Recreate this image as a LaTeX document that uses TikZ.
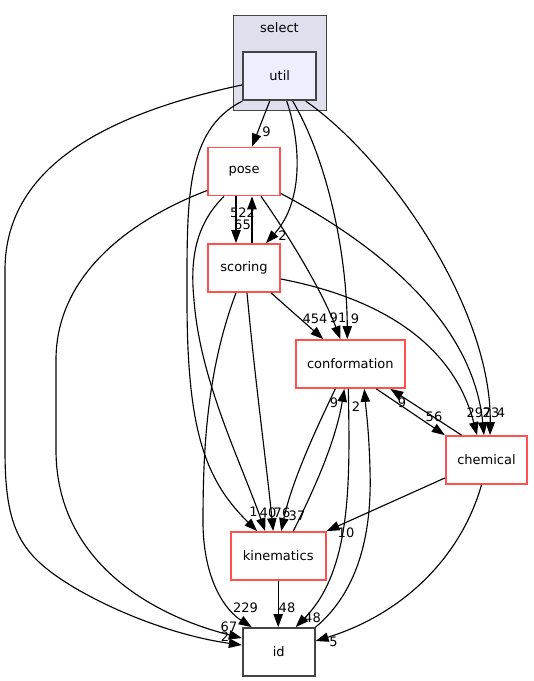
\documentclass[tikz,border=0pt]{standalone}
\usepackage{fontspec}
\setmainfont{DejaVu Sans}
\usetikzlibrary{arrows.meta}

\definecolor{dirred}{RGB}{255,80,80}
\definecolor{dirgray}{RGB}{68,68,68}
\definecolor{clusterfill}{RGB}{223,223,238}
\definecolor{utilfill}{RGB}{238,238,255}

\tikzset{every picture/.style={line width=0.75pt}}
\tikzset{
  dirbox/.style={draw=dirred, line width=1.3pt, fill=white, minimum width=54pt, minimum height=36pt, inner sep=0pt},
  dep/.style={draw=black, line width=0.85pt, -{Triangle[length=9.75pt,width=7pt]}},
  lbl/.style={inner sep=0.75pt}
}

\begin{document}
\begin{tikzpicture}[x=0.75pt,y=0.75pt,yscale=-1,xscale=1,font=\fontsize{9.75}{11}\selectfont]
\useasboundingbox (0,0) rectangle (533,681);

%Shape: Rectangle [select]
\draw [draw=dirgray, line width=1pt, fill=clusterfill] (233.3,15.3) rectangle (326.7,110.7);
\node [lbl] (select) at (279.5,27.5) {select};

%Shape: Rectangle [util]
\node [draw=dirgray, line width=1.6pt, fill=utilfill, minimum width=54.5pt, minimum height=36.2pt, inner sep=0pt] (util) at (279.7,75.9) {util};
%Shape: Rectangle [others]
\node [dirbox] (pose) at (244,171.5) {pose};
\node [dirbox] (scoring) at (244,268) {scoring};
\node [dirbox, minimum width=82pt] (conformation) at (350.3,364) {conformation};
\node [dirbox, minimum width=61.2pt] (chemical) at (486.5,460) {chemical};
\node [dirbox, minimum width=71.25pt] (kinematics) at (278.2,556) {kinematics};
\node [dirbox, draw=dirgray] (id) at (278.7,652) {id};

%Curve Lines [from util]
\draw [dep] ([shift={(-10,0)}]util.south) -- ([shift={(8,0)}]pose.north);
\draw [dep] ([shift={(7,0)}]util.south) .. controls (300,140) and (305,200) .. ([shift={(22,0)}]scoring.north);
\draw [dep] ([shift={(13,0)}]util.south) .. controls (330,165) and (347,260) .. ([shift={(-3,0)}]conformation.north);
\draw [dep] ([shift={(26,0)}]util.south) .. controls (390,160) and (492,310) .. ([shift={(3.5,0)}]chemical.north);
\draw [dep] (util.south west) .. controls (185,130) and (187,200) .. (187,300) .. controls (187,430) and (205,480) .. ([shift={(-21,0)}]kinematics.north);
\draw [dep] ([shift={(0,9)}]util.west) .. controls (100,115) and (5,170) .. (5,270) -- (5,450) .. controls (5,530) and (20,555) .. (75,588) .. controls (130,620) and (190,638) .. ([shift={(0,-7)}]id.west);

%Curve Lines [from pose]
\draw [dep] ([shift={(-8,0)}]pose.south) -- ([shift={(-8,0)}]scoring.north);
\draw [dep] ([shift={(17,0)}]pose.south) .. controls (285,230) and (322,290) .. ([shift={(-10,0)}]conformation.north);
\draw [dep] ([shift={(0,22)}]pose.east) .. controls (365,238) and (472,315) .. ([shift={(-2.5,0)}]chemical.north);
\draw [dep] ([shift={(-20,0)}]pose.south) .. controls (195,225) and (190,260) .. (194,300) .. controls (200,380) and (240,460) .. ([shift={(-13,0)}]kinematics.north);
\draw [dep] ([shift={(0,19)}]pose.west) .. controls (130,220) and (56,275) .. (56,360) -- (56,450) .. controls (56,560) and (150,615) .. ([shift={(0,-14)}]id.west);

%Curve Lines [from scoring]
\draw [dep] ([shift={(8,0)}]scoring.north) -- ([shift={(8,0)}]pose.south);
\draw [dep] ([shift={(27,0)}]scoring.south) -- ([shift={(-27,0)}]conformation.north);
\draw [dep] ([shift={(0,11)}]scoring.east) .. controls (390,300) and (455,350) .. ([shift={(-9.5,0)}]chemical.north);
\draw [dep] ([shift={(3,0)}]scoring.south) .. controls (255,380) and (266,460) .. ([shift={(-5,0)}]kinematics.north);
\draw [dep] ([shift={(-8,0)}]scoring.south) .. controls (205,375) and (203,460) .. (203,525) .. controls (204,580) and (225,610) .. ([shift={(-27,0)}]id.north);

%Curve Lines [from conformation]
\draw [dep] ([shift={(26,0)}]conformation.south) -- (chemical.north west);
\draw [dep] ([shift={(-15,0)}]conformation.south) .. controls (318,425) and (292,480) .. ([shift={(3,0)}]kinematics.north);
\draw [dep] ([shift={(-2,0)}]conformation.south) .. controls (350,480) and (352,570) .. ([shift={(17,0)}]id.north);

%Curve Lines [from chemical]
\draw [dep] ([shift={(-25,0)}]chemical.north) -- ([shift={(40,0)}]conformation.south);
\draw [dep] ([shift={(0,18)}]chemical.west) -- (kinematics.north east);
\draw [dep] ([shift={(-5,0)}]chemical.south) .. controls (460,560) and (400,615) .. ([shift={(0,-11)}]id.east);

%Curve Lines [from kinematics]
\draw [dep] ([shift={(15,0)}]kinematics.north) .. controls (315,488) and (336,440) .. ([shift={(-6,0)}]conformation.south);
\draw [dep] (kinematics.south) -- (kinematics.south |- id.north);

%Curve Lines [from id]
\draw [dep] (id.north east) .. controls (360,590) and (372,530) .. (370,470) .. controls (369,430) and (366,410) .. ([shift={(14,0)}]conformation.south);

% Text Node
\node [lbl] (nUtilPose) at (266.5,132) {9};
\node [lbl] (nUtilScoring) at (282.5,236) {2};
\node [lbl] (nUtilConf) at (355,319) {9};
\node [lbl] (nPoseConf) at (338,318) {91};
\node [lbl] (nScoringConf) at (315,319) {454};
\node [lbl] (nScoringPose) at (242.5,213) {522};
\node [lbl] (nPoseScoring) at (242.5,225) {65};
\node [lbl] (nScoringChem) at (479,413) {297};
\node [lbl] (nPoseChem) at (491,413) {23};
\node [lbl] (nUtilChem) at (501,413) {4};
\node [lbl] (nConfChem) at (434,417) {56};
\node [lbl] (nChemConf) at (402,403) {9};
\node [lbl] (nKinConf) at (334,403) {9};
\node [lbl] (nIdConf) at (356,407) {2};
\node [lbl] (nUtilKin) at (253.5,512) {1};
\node [lbl] (nPoseKin) at (268,512.5) {40};
\node [lbl] (nScoringKin) at (282,512.5) {76};
\node [lbl] (nConfKin) at (297,516) {37};
\node [lbl] (nChemKin) at (346,533) {10};
\node [lbl] (nScoringId) at (245.5,608) {229};
\node [lbl] (nKinId) at (287,608) {48};
\node [lbl] (nConfId) at (312.5,618) {48};
\node [lbl] (nPoseId) at (229,627) {67};
\node [lbl] (nUtilId) at (225,637) {2};
\node [lbl] (nChemId) at (333.5,642) {5};

\end{tikzpicture}
\end{document}
